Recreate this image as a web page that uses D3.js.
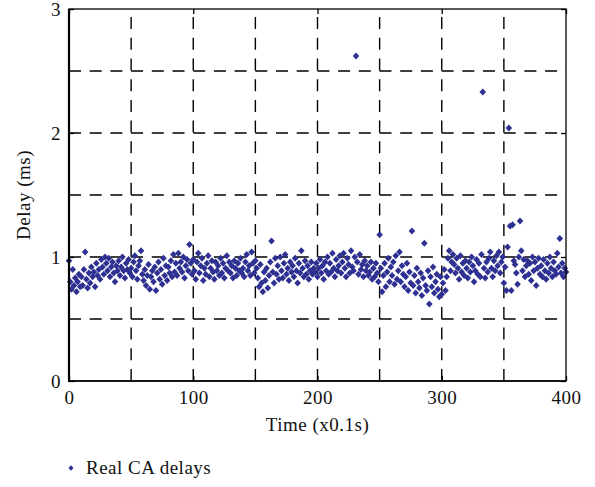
<!DOCTYPE html>
<html><head><meta charset="utf-8">
<script src="https://cdn.jsdelivr.net/npm/d3@7"></script>
<style>body{margin:0;background:#fff}svg{display:block}text{font-family:"Liberation Serif","Times New Roman",serif;fill:#111}</style>
</head><body><svg id="c" width="595" height="487"></svg>
<script>
const xTicks = [0, 100, 200, 300, 400];
const yTicks = [0, 1, 2, 3];
const xGrid = [50, 100, 150, 200, 250, 300, 350];
const yGrid = [0.5, 1, 1.5, 2, 2.5];
const xLabel = "Time (x0.1s)";
const yLabel = "Delay (ms)";
const seriesName = "Real CA delays";
const delays = [
0.97,0.80,0.74,0.90,0.77,0.83,0.72,0.80,0.86,0.76,
0.84,0.77,0.90,1.04,0.82,0.75,0.87,0.79,0.92,0.84,
0.88,0.76,0.95,0.85,0.90,0.82,0.98,0.92,0.86,1.00,
0.95,0.89,0.99,0.84,0.92,0.96,0.87,0.80,0.93,0.89,
0.97,0.85,0.92,1.00,0.89,0.83,0.95,0.90,0.98,0.87,
0.91,0.84,0.96,1.01,0.89,0.82,0.93,0.97,1.05,0.86,
0.81,0.90,0.77,0.85,0.94,0.74,0.84,0.89,0.80,0.92,
0.73,0.87,0.96,0.82,0.90,0.78,0.99,0.85,0.93,0.81,
0.92,0.87,0.97,0.84,1.02,0.88,0.95,0.85,1.03,0.91,
0.96,0.88,1.00,0.83,0.93,0.98,0.89,1.10,0.95,0.86,
0.98,0.89,0.82,0.96,1.03,0.87,0.93,0.99,0.81,0.91,
0.86,0.95,1.01,0.84,0.91,0.97,0.88,0.82,0.96,0.89,
0.93,0.85,0.99,0.87,0.95,0.83,0.91,1.01,0.89,0.96,
0.87,0.93,0.83,0.97,0.91,0.85,0.95,0.89,0.99,0.87,
0.91,0.84,0.96,1.02,0.89,0.93,0.85,1.04,0.95,0.87,
0.97,0.91,0.83,0.76,0.94,0.79,0.72,0.88,0.81,0.91,
0.75,0.85,0.96,1.13,0.88,0.79,0.99,0.86,0.93,0.82,
1.00,0.89,0.83,0.95,1.02,0.86,0.91,0.81,0.96,0.88,
0.93,0.84,0.99,0.89,0.79,0.95,0.87,1.05,0.91,0.84,
0.97,0.86,0.93,0.82,0.89,0.96,0.86,0.91,0.88,0.95,
0.84,0.91,0.98,0.87,0.93,0.82,0.96,0.89,1.00,0.86,
0.95,0.88,1.03,0.91,0.84,0.98,0.89,0.93,1.01,0.87,
0.96,1.03,0.91,0.84,0.99,0.94,0.87,1.05,0.92,0.89,
1.00,2.62,0.96,0.86,1.02,0.90,0.94,0.84,0.97,0.89,
0.93,0.85,0.88,0.96,0.82,0.91,0.84,0.95,0.87,0.80,
1.18,0.91,0.72,0.85,0.95,0.76,0.88,0.99,0.80,0.92,
0.85,0.96,0.78,1.01,0.82,0.89,1.04,0.80,0.93,0.86,
0.76,0.84,0.95,0.73,0.88,0.79,1.21,0.77,0.85,0.71,
0.91,0.80,0.75,0.87,0.69,0.83,1.11,0.77,0.73,0.89,
0.62,0.84,0.76,0.92,0.71,0.80,0.86,0.74,0.68,0.84,
0.70,0.79,0.90,0.73,0.84,0.99,1.05,0.89,0.96,1.02,
0.94,0.87,0.99,0.91,0.82,1.01,0.88,0.95,0.85,0.97,
0.91,0.83,0.96,0.88,1.00,0.93,0.80,0.89,0.98,0.86,
0.95,0.84,1.02,2.33,0.91,0.83,0.96,0.88,0.99,1.04,
0.91,0.84,0.97,0.89,1.01,0.93,1.04,0.87,0.96,1.00,
0.79,0.92,0.73,1.08,2.04,1.25,0.73,1.26,0.97,0.94,
0.87,0.78,1.00,1.29,1.05,0.89,0.98,0.84,0.93,0.97,
0.86,0.95,0.81,1.00,0.89,0.96,0.77,0.91,0.99,0.86,
0.93,0.84,0.98,0.89,0.82,0.95,0.87,1.00,0.91,0.84,
0.96,0.89,0.86,1.03,0.92,1.15,0.87,0.95,0.84,0.91,
0.88
];
const times = delays.map((d, i) => i);

const svg = d3.select("#c");
const L = 69, R = 566, T = 9, B = 381;
const x = d3.scaleLinear().domain([0, 400]).range([L, R]);
const y = d3.scaleLinear().domain([0, 3]).range([B, T]);
const color = "#2e3192";
const dash = "12,8.7";

// grid
svg.append("g").selectAll("line").data(yGrid).join("line")
  .attr("x1", L).attr("x2", R).attr("y1", d => y(d)).attr("y2", d => y(d))
  .attr("stroke", "#000").attr("stroke-width", 1.4).attr("stroke-dasharray", dash);
svg.append("g").selectAll("line").data(xGrid).join("line")
  .attr("x1", d => x(d)).attr("x2", d => x(d)).attr("y1", B).attr("y2", T)
  .attr("stroke", "#000").attr("stroke-width", 1.4).attr("stroke-dasharray", dash);

// points (square-proportioned diamonds)
const dia = (w, h) => `M0,${-h}L${w},0L0,${h}L${-w},0Z`;
svg.append("g").selectAll("path").data(delays).join("path")
  .attr("d", dia(3.3, 3.5))
  .attr("transform", (d, i) => `translate(${x(times[i])},${y(d)})`)
  .attr("fill", color);

// frame
svg.append("rect").attr("x", L).attr("y", T).attr("width", R - L).attr("height", B - T)
  .attr("fill", "none").attr("stroke", "#000").attr("stroke-width", 1.3);
svg.append("line").attr("x1", L).attr("x2", L).attr("y1", T).attr("y2", B + 1)
  .attr("stroke", "#000").attr("stroke-width", 2.2);
svg.append("line").attr("x1", L).attr("x2", R).attr("y1", B).attr("y2", B)
  .attr("stroke", "#000").attr("stroke-width", 1.6);

// axes (inward ticks)
const fs = 19, ls = 0.5;
const gx = svg.append("g").attr("transform", `translate(0,${B})`)
  .call(d3.axisBottom(x).tickValues(xTicks).tickSize(-5).tickPadding(10).tickFormat(d3.format("d")));
const gxt = svg.append("g").attr("transform", `translate(0,${T})`)
  .call(d3.axisTop(x).tickValues(xTicks).tickSize(-5).tickFormat(""));
const gy = svg.append("g").attr("transform", `translate(${L},0)`)
  .call(d3.axisLeft(y).tickValues(yTicks).tickSize(-5).tickPadding(8).tickFormat(d3.format("d")));
const gyr = svg.append("g").attr("transform", `translate(${R},0)`)
  .call(d3.axisRight(y).tickValues(yTicks).tickSize(-5).tickFormat(""));
[gx, gxt, gy, gyr].forEach(g => {
  g.select(".domain").remove();
  g.selectAll("line").attr("stroke", "#000").attr("stroke-width", 1.3);
  g.selectAll("text").attr("font-size", fs).attr("letter-spacing", ls)
    .attr("font-family", "Liberation Serif, serif").attr("fill", "#111");
});

// axis titles
svg.append("text").attr("x", (L + R) / 2).attr("y", 431).attr("text-anchor", "middle")
  .attr("font-size", fs).attr("letter-spacing", ls).text(xLabel);
svg.append("text").attr("transform", `translate(30,${(T + B) / 2}) rotate(-90)`)
  .attr("text-anchor", "middle").attr("font-size", fs).attr("letter-spacing", ls).text(yLabel);

// legend
svg.append("path").attr("d", dia(2.5, 2.7))
  .attr("transform", "translate(71,468)").attr("fill", color);
svg.append("text").attr("x", 86).attr("y", 474).attr("font-size", fs).attr("letter-spacing", ls).text(seriesName);
</script></body></html>
